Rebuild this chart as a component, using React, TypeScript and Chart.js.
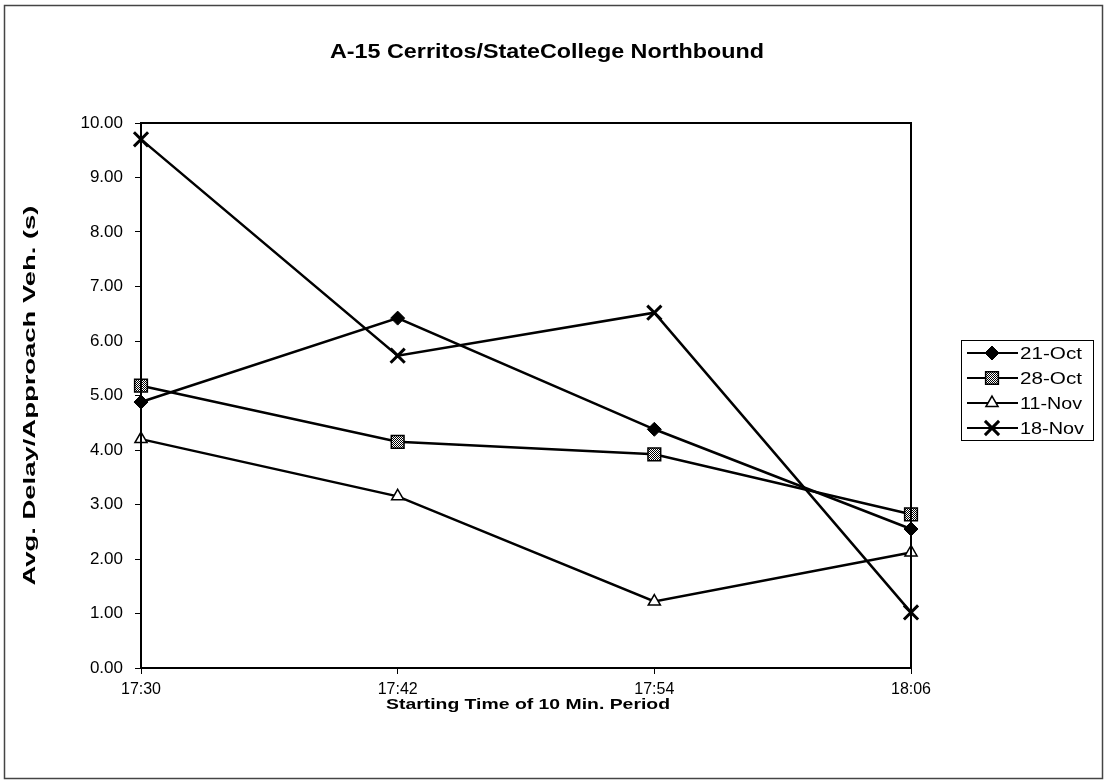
import React, { useEffect, useRef } from 'react';
import { Chart, registerables } from 'chart.js';
import { drawPoint } from 'chart.js/helpers';

Chart.register(...registerables);

const categories = ['17:30', '17:42', '17:54', '18:06'];
const oct21 = [4.88, 6.42, 4.38, 2.55];
const oct28 = [5.18, 4.15, 3.92, 2.82];
const nov11 = [4.2, 3.15, 1.22, 2.12];
const nov18 = [9.7, 5.73, 6.52, 1.02];
const seriesLabels = ['21-Oct', '28-Oct', '11-Nov', '18-Nov'];
const chartTitle = 'A-15 Cerritos/StateCollege Northbound';
const xTitle = 'Starting Time of 10 Min. Period';
const yTitle = 'Avg. Delay/Approach Veh. (s)';

const FONT = "'Liberation Sans', Arial, sans-serif";

function makePattern(): CanvasPattern | string {
  const c = document.createElement('canvas');
  c.width = 2;
  c.height = 2;
  const g = c.getContext('2d');
  if (!g) return '#888';
  g.fillStyle = '#ffffff';
  g.fillRect(0, 0, 2, 2);
  g.fillStyle = '#000000';
  g.fillRect(0, 0, 1, 1);
  g.fillRect(1, 1, 1, 1);
  const p = g.createPattern(c, 'repeat');
  return p || '#888';
}

// draws text stretched along its reading direction to a target width
function fitText(ctx: CanvasRenderingContext2D, text: string, x: number, y: number, font: string, width: number, rot = 0, align: 'center' | 'left' = 'center') {
  ctx.save();
  ctx.font = font;
  const w = ctx.measureText(text).width;
  const s = width / w;
  ctx.translate(x, y);
  ctx.rotate(rot);
  ctx.scale(s, 1);
  ctx.textAlign = align;
  ctx.textBaseline = 'middle';
  ctx.fillStyle = '#000';
  ctx.fillText(text, 0, 0);
  ctx.restore();
}

export default function App() {
  const ref = useRef<HTMLCanvasElement>(null);

  useEffect(() => {
    const canvas = ref.current;
    if (!canvas) return;
    const pattern = makePattern();

    const styles = [
      { pointStyle: 'rectRot', radius: 7, bg: '#000', lw: 1 },
      { pointStyle: 'rect', radius: 9, bg: pattern, lw: 1.5 },
      { pointStyle: 'triangle', radius: 7, bg: '#fff', lw: 1.5 },
      { pointStyle: 'crossRot', radius: 10, bg: '#000', lw: 3 },
    ];
    const values = [oct21, oct28, nov11, nov18];

    const datasets = values.map((v, i) => ({
      label: seriesLabels[i],
      data: v,
      borderColor: '#000',
      borderWidth: 2.5,
      pointStyle: styles[i].pointStyle as any,
      pointRadius: styles[i].radius,
      pointBackgroundColor: styles[i].bg as any,
      pointBorderColor: '#000',
      pointBorderWidth: styles[i].lw,
      tension: 0,
      fill: false,
    }));

    const decor = {
      id: 'decor',
      beforeDraw(chart: any) {
        const ctx = chart.ctx;
        ctx.save();
        ctx.fillStyle = '#fff';
        ctx.fillRect(0, 0, chart.width, chart.height);
        ctx.strokeStyle = '#444';
        ctx.lineWidth = 1.5;
        ctx.strokeRect(4.5, 5.5, 1098, 773);
        ctx.restore();
      },
      afterDraw(chart: any) {
        const ctx = chart.ctx;
        const a = chart.chartArea;
        ctx.save();
        // plot frame
        ctx.strokeStyle = '#000';
        ctx.lineWidth = 2;
        ctx.strokeRect(a.left, a.top, a.right - a.left, a.bottom - a.top);
        // titles
        fitText(ctx, chartTitle, 547, 52, `bold 20px ${FONT}`, 434);
        fitText(ctx, xTitle, (a.left + a.right) / 2 + 2, 705, `bold 15px ${FONT}`, 284);
        fitText(ctx, yTitle, 31, (a.top + a.bottom) / 2, `bold 16px ${FONT}`, 380, -Math.PI / 2);
        // legend
        const lx = 961, ly = 340, lw = 132, lh = 100;
        ctx.fillStyle = '#fff';
        ctx.fillRect(lx, ly, lw, lh);
        ctx.strokeStyle = '#000';
        ctx.lineWidth = 1;
        ctx.strokeRect(lx + 0.5, ly + 0.5, lw, lh);
        const legendWidths = [62, 62, 62, 64];
        seriesLabels.forEach((lab, i) => {
          const y = 353 + i * 25;
          ctx.strokeStyle = '#000';
          ctx.lineWidth = 2;
          ctx.beginPath();
          ctx.moveTo(967, y);
          ctx.lineTo(1018, y);
          ctx.stroke();
          ctx.fillStyle = styles[i].bg as any;
          ctx.strokeStyle = '#000';
          ctx.lineWidth = styles[i].lw;
          drawPoint(ctx, { pointStyle: styles[i].pointStyle as any, radius: styles[i].radius, rotation: 0, borderWidth: styles[i].lw } as any, 992, y);
          fitText(ctx, lab, 1020, y + 1, `17px ${FONT}`, legendWidths[i], 0, 'left');
        });
        ctx.restore();
      },
    };

    const chart = new Chart(canvas, {
      type: 'line',
      data: { labels: categories, datasets },
      plugins: [decor],
      options: {
        animation: false,
        responsive: false,
        events: [],
        layout: { padding: { left: 18, top: 123, right: 194, bottom: 65 } },
        plugins: {
          legend: { display: false },
          title: { display: false },
          tooltip: { enabled: false },
        },
        scales: {
          x: {
            type: 'category',
            offset: false,
            grid: { display: true, drawOnChartArea: false, drawTicks: true, tickLength: 6, color: '#000', offset: false },
            border: { display: false },
            ticks: { color: '#000', font: { family: FONT, size: 16 }, padding: 6, maxRotation: 0 },
            title: { display: false },
            afterFit(scale: any) { scale.height = 47; },
          },
          y: {
            min: 0,
            max: 10,
            grid: { display: true, drawOnChartArea: false, drawTicks: true, tickLength: 6, color: '#000' },
            border: { display: false },
            ticks: {
              stepSize: 1,
              color: '#000',
              font: { family: FONT, size: 17 },
              padding: 12,
              callback: (v: any) => Number(v).toFixed(2),
            },
            title: { display: false },
            afterFit(scale: any) { scale.width = 123; },
          },
        },
      } as any,
    });
    return () => chart.destroy();
  }, []);

  return (
    <div style={{ position: 'absolute', left: 0, top: 0, width: 1105, height: 780 }}>
      <canvas ref={ref} width={1105} height={780} style={{ display: 'block', width: 1105, height: 780 }} />
    </div>
  );
}
